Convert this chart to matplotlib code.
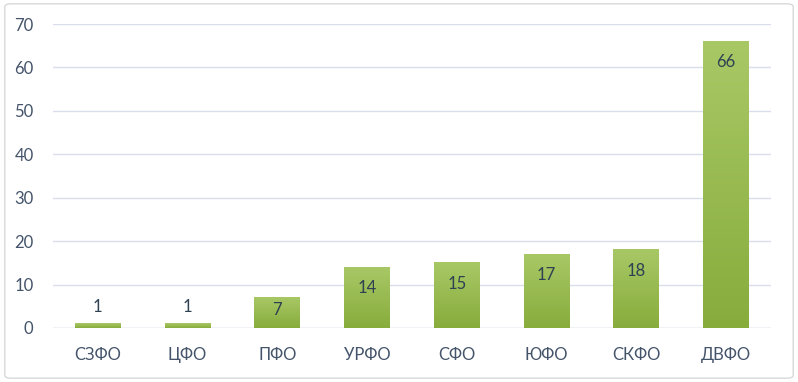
import matplotlib.pyplot as plt
import numpy as np
from matplotlib.colors import LinearSegmentedColormap
from matplotlib.patches import FancyBboxPatch

# данные
districts = ['СЗФО', 'ЦФО', 'ПФО', 'УРФО', 'СФО', 'ЮФО', 'СКФО', 'ДВФО']
counts = [1, 1, 7, 14, 15, 17, 18, 66]
y_ticks = [0, 10, 20, 30, 40, 50, 60, 70]

plt.rcParams['font.family'] = ['Lato', 'DejaVu Sans']

fig = plt.figure(figsize=(7.98, 3.82), dpi=100)
# рамка вокруг диаграммы
fig.patches.append(FancyBboxPatch((0.006, 0.01), 0.988, 0.98, boxstyle='round,pad=0,rounding_size=0.008',
                                  transform=fig.transFigure, facecolor='white',
                                  edgecolor='#D9D9D9', linewidth=1.0, zorder=-1))
ax = fig.add_axes([0.0664, 0.1414, 0.8996, 0.7956])
ax.patch.set_alpha(0)

x = np.arange(len(districts))
bars = ax.bar(x, counts, width=0.51, color='none', zorder=3)

# градиент на столбцах
cmap = LinearSegmentedColormap.from_list('g', ['#88AC3C', '#A8C866'])
grad = np.linspace(0, 1, 256).reshape(-1, 1)
for bar in bars:
    x0, w, h = bar.get_x(), bar.get_width(), bar.get_height()
    ax.imshow(grad, cmap=cmap, origin='lower', aspect='auto',
              extent=(x0, x0 + w, 0, h), zorder=3)

# подписи значений
for bar, v in zip(bars, counts):
    cx = bar.get_x() + bar.get_width() / 2
    ty = v + 3.9 if v < 5 else max(v - 4.8, 4.1)
    ax.text(cx, ty, str(v), ha='center', va='center', fontsize=12, color='#2E4152', zorder=4)

ax.set_xlim(-0.5, len(districts) - 0.5)
ax.set_ylim(0, 70)
ax.set_yticks(y_ticks)
ax.set_xticks(x)
ax.set_xticklabels(districts)
ax.tick_params(axis='both', length=0, labelsize=12, labelcolor='#44546A')
ax.tick_params(axis='x', pad=14)
ax.tick_params(axis='y', pad=14)
ax.grid(axis='y', color='#D9DEEA', linewidth=1, zorder=0)
for s in ax.spines.values():
    s.set_visible(False)
ax.axhline(0, color='#D9DEEA', linewidth=1, zorder=2)

fig.savefig('out.png', dpi=100)
